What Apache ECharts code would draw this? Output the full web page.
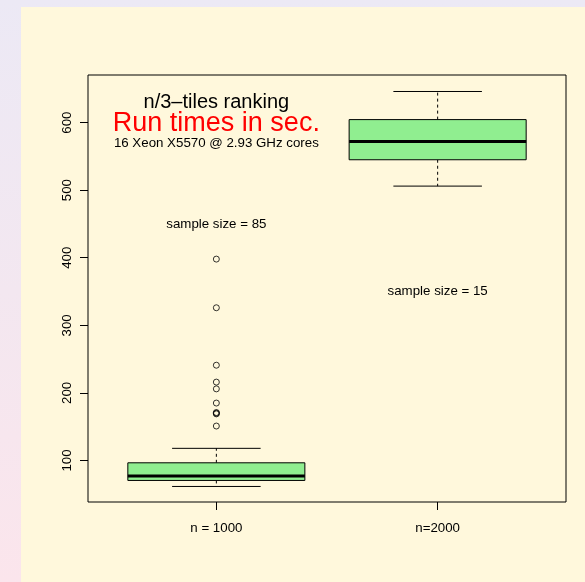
<!DOCTYPE html>
<html>
<head>
<meta charset="utf-8">
<script src="https://cdn.jsdelivr.net/npm/echarts@6/dist/echarts.min.js"></script>
<style>
  html, body { margin: 0; padding: 0; }
  body { width: 585px; height: 582px; overflow: hidden; position: relative;
         background: linear-gradient(to bottom, #ECE9F5 0%, #F3E7F0 50%, #FBE5EC 100%); }
  #panel { position: absolute; left: 21px; top: 7px; width: 564px; height: 575px; background: #FFF8DC; }
  #chart { position: absolute; left: 0; top: 0; width: 585px; height: 582px; }
</style>
</head>
<body>
<div id="panel"></div>
<div id="chart"></div>
<script>
// ---- data ----
const categories = ['n = 1000', 'n=2000'];
// [lower whisker, Q1, median, Q3, upper whisker]
const boxStats = [
  [61.6, 70.5, 77, 96.6, 118],
  [506, 545, 572, 604.4, 646]
];
const outlierGroup = [1, 1, 1, 1, 1, 1, 1, 1, 1, 1];
const outlierValues = [398, 326, 241, 216, 206, 185, 171, 170, 169, 151];
const yTicks = [100, 200, 300, 400, 500, 600];
const annotTexts = ['n/3\u2013tiles ranking', 'Run times in sec.', '16 Xeon X5570 @ 2.93 GHz cores', 'sample size = 85', 'sample size = 15'];
const annotX = [1, 1, 1, 1, 2];
const annotY = [630.4, 599, 569.3, 450, 350];

const FONT = 'Liberation Sans, Arial, Helvetica, sans-serif';
const annotStyle = [
  { size: 20, color: '#000' },
  { size: 27, color: '#FF0000' },
  { size: 13.3, color: '#000' },
  { size: 13.3, color: '#000' },
  { size: 13.3, color: '#000' }
];

const boxData = boxStats.map((s, i) => [i + 1].concat(s));
const outlierData = outlierValues.map((v, i) => [outlierGroup[i], v]);
const annotData = annotTexts.map((t, i) => [annotX[i], annotY[i], i]);

const chart = echarts.init(document.getElementById('chart'), null, { renderer: 'canvas' });

const option = {
  backgroundColor: 'transparent',
  animation: false,
  grid: { left: 88, top: 75, right: 19, bottom: 80, show: true, borderColor: '#000', borderWidth: 1, backgroundColor: 'transparent' },
  xAxis: {
    type: 'value', min: 0.42, max: 2.58,
    splitLine: { show: false },
    axisLine: { show: false },
    axisTick: { show: true, length: 8, lineStyle: { color: '#000' }, customValues: [1, 2] },
    axisLabel: { show: true, margin: 20, color: '#000', fontSize: 13.3, fontFamily: FONT,
      customValues: [1, 2], formatter: v => categories[Math.round(v) - 1] || '' }
  },
  yAxis: {
    type: 'value', min: 38.6, max: 670.4,
    splitLine: { show: false },
    axisLine: { show: false },
    axisTick: { show: true, length: 8, lineStyle: { color: '#000' }, customValues: yTicks },
    axisLabel: { show: true, rotate: 90, margin: 14, color: '#000', fontSize: 13.3, fontFamily: FONT,
      customValues: yTicks }
  },
  series: [
    {
      type: 'custom',
      data: boxData,
      renderItem: function (params, api) {
        const x = api.value(0);
        const lo = api.value(1), q1 = api.value(2), med = api.value(3), q3 = api.value(4), hi = api.value(5);
        const hw = 0.4, cw = 0.2;
        const pLT = api.coord([x - hw, q3]);
        const pRB = api.coord([x + hw, q1]);
        const pc = (v) => api.coord([x, v]);
        const line = (a, b, style) => ({ type: 'line', shape: { x1: a[0], y1: a[1], x2: b[0], y2: b[1] }, style: style });
        const dashed = { stroke: '#000', lineWidth: 1, lineDash: [3, 3] };
        const solid = { stroke: '#000', lineWidth: 1 };
        return {
          type: 'group',
          children: [
            line(pc(q3), pc(hi), dashed),
            line(pc(q1), pc(lo), dashed),
            line(api.coord([x - cw, hi]), api.coord([x + cw, hi]), solid),
            line(api.coord([x - cw, lo]), api.coord([x + cw, lo]), solid),
            { type: 'rect', shape: { x: pLT[0], y: pLT[1], width: pRB[0] - pLT[0], height: pRB[1] - pLT[1] },
              style: { fill: '#90EE90', stroke: '#000', lineWidth: 1 } },
            line(api.coord([x - hw, med]), api.coord([x + hw, med]), { stroke: '#000', lineWidth: 3 })
          ]
        };
      },
      encode: { x: 0, y: [1, 2, 3, 4, 5] },
      z: 3
    },
    {
      type: 'scatter',
      data: outlierData,
      symbol: 'circle',
      symbolSize: 6,
      itemStyle: { color: 'rgba(0,0,0,0)', borderColor: '#000', borderWidth: 1 },
      z: 4
    },
    {
      type: 'custom',
      data: annotData,
      renderItem: function (params, api) {
        const p = api.coord([api.value(0), api.value(1)]);
        const idx = api.value(2);
        const st = annotStyle[idx];
        return {
          type: 'text',
          x: p[0], y: p[1],
          style: { text: annotTexts[idx], fill: st.color, fontSize: st.size, fontFamily: FONT,
                   align: 'center', verticalAlign: 'middle' }
        };
      },
      encode: { x: 0, y: 1 },
      z: 5
    }
  ]
};
chart.setOption(option);
</script>
</body>
</html>
